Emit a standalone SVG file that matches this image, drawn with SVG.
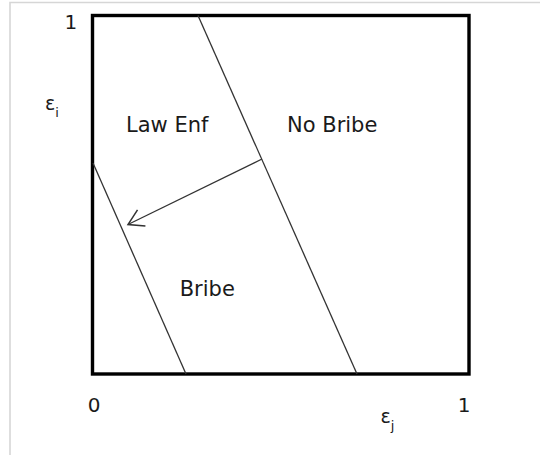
<svg xmlns="http://www.w3.org/2000/svg" width="540" height="455" viewBox="0 0 540 455">
<defs>
<style>
.lbl{font-family:"DejaVu Sans",Verdana,sans-serif;font-size:21px;fill:#1a1a1a}
.num{font-family:"DejaVu Sans",Verdana,sans-serif;font-size:20px;fill:#1a1a1a}
.eps{font-family:"DejaVu Sans",Verdana,sans-serif;font-size:19px;fill:#1a1a1a}
.sub{font-size:13px}
.thin{stroke:#333;stroke-width:1.3;fill:none}
</style>
<marker id="arr" markerUnits="userSpaceOnUse" viewBox="-18 -11 20 22" markerWidth="20" markerHeight="22" refX="0" refY="0" orient="auto" overflow="visible">
<path d="M-15,-9 L0,0 L-15,9" fill="none" stroke="#333" stroke-width="1.5"/>
</marker>
</defs>
<rect width="540" height="455" fill="#fff"/>
<g id="frame">
<path d="M10,455 V2.5 H540" fill="none" stroke="#d6d6d6" stroke-width="1.6"/>
</g>
<g id="box">
<rect x="92.5" y="15.5" width="376.5" height="358.5" fill="none" stroke="#000" stroke-width="3.4"/>
</g>
<g id="connectors">
<line class="thin" x1="198" y1="15.5" x2="357" y2="374"/>
<line class="thin" x1="93" y1="163" x2="186" y2="374"/>
<line class="thin" x1="262" y1="159" x2="128" y2="224.5" stroke-width="1.5" marker-end="url(#arr)"/>
</g>
<g id="law-enf"><text class="lbl" x="126" y="132">Law Enf</text></g>
<g id="no-bribe"><text class="lbl" x="287" y="132.3">No Bribe</text></g>
<g id="bribe"><text class="lbl" x="179.7" y="295.7">Bribe</text></g>
<g id="axis-labels">
<text class="num" x="64.5" y="29.3">1</text>
<text class="num" x="87.7" y="411.7">0</text>
<text class="num" x="457.8" y="411.5">1</text>
<text class="eps" x="45" y="110">ε<tspan class="sub" dy="7">i</tspan></text>
<text class="eps" x="380.5" y="423.3">ε<tspan class="sub" dy="7">j</tspan></text>
</g>
</svg>
